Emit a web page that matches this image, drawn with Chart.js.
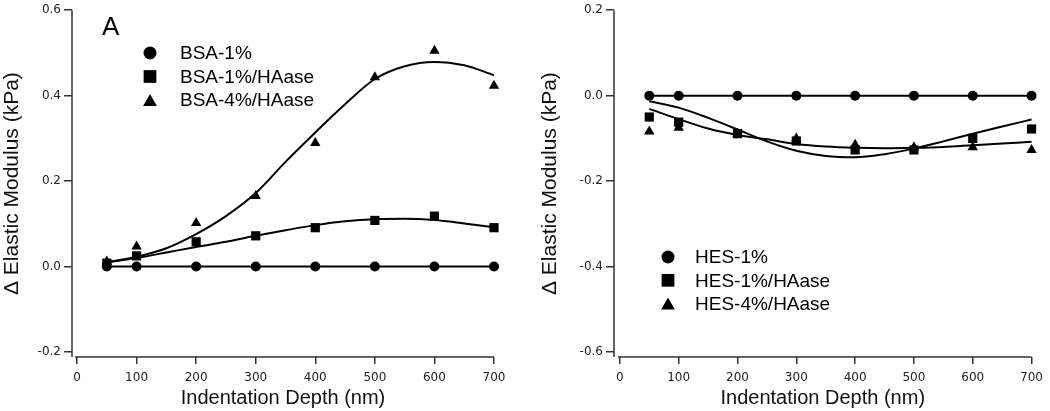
<!DOCTYPE html>
<html>
<head>
<meta charset="utf-8">
<script src="https://cdn.jsdelivr.net/npm/chart.js@4/dist/chart.umd.min.js"></script>
<style>
  html, body { margin: 0; padding: 0; background: #fff; }
  #wrap { position: relative; width: 1050px; height: 411px; }
  .panel { position: absolute; top: 0; width: 525px; height: 411px; }
  #pA { left: 0; }
  #pB { left: 525px; }
</style>
</head>
<body>
<div id="wrap">
  <div class="panel" id="pA"><canvas id="cA" width="525" height="411"></canvas></div>
  <div class="panel" id="pB"><canvas id="cB" width="525" height="411"></canvas></div>
</div>
<script>
// ---------- DATA ----------
const depth = [50, 100, 200, 300, 400, 500, 600, 700];
const fitDepth = [50, 100, 150, 200, 250, 300, 350, 400, 450, 500, 550, 600, 650, 700];

// Panel A
const bsa1 = [0, 0, 0, 0, 0, 0, 0, 0];
const bsa1HA = [0.008, 0.025, 0.058, 0.072, 0.091, 0.108, 0.118, 0.091];
const bsa4HA = [0.012, 0.047, 0.102, 0.165, 0.289, 0.443, 0.505, 0.423];
const bsa1HAfit = [0.010, 0.020, 0.033, 0.046, 0.058, 0.072, 0.085, 0.097, 0.106, 0.111, 0.112, 0.109, 0.101, 0.092];
const bsa4HAfit = [0.010, 0.023, 0.043, 0.076, 0.118, 0.172, 0.245, 0.314, 0.380, 0.439, 0.469, 0.479, 0.471, 0.448];

// Panel B
const hes1 = [0, 0, 0, 0, 0, 0, 0, 0];
const hes1HA = [-0.050, -0.062, -0.089, -0.106, -0.127, -0.127, -0.100, -0.078];
const hes4HA = [-0.084, -0.075, -0.090, -0.100, -0.115, -0.121, -0.121, -0.127];
const hes1HAfit = [-0.013, -0.028, -0.052, -0.079, -0.107, -0.129, -0.141, -0.144, -0.137, -0.124, -0.107, -0.089, -0.072, -0.056];
const hes4HAfit = [-0.031, -0.055, -0.077, -0.092, -0.102, -0.113, -0.119, -0.122, -0.123, -0.122, -0.120, -0.116, -0.112, -0.108];

// Tick labels
const xTicks = [0, 100, 200, 300, 400, 500, 600, 700];
const yTicksA = [-0.2, 0.0, 0.2, 0.4, 0.6];
const yTicksB = [-0.6, -0.4, -0.2, 0.0, 0.2];

const labelsA = ['BSA-1%', 'BSA-1%/HAase', 'BSA-4%/HAase'];
const labelsB = ['HES-1%', 'HES-1%/HAase', 'HES-4%/HAase'];
const xTitle = 'Indentation Depth (nm)';
const yTitle = '\u0394 Elastic Modulus (kPa)';

// ---------- helpers ----------
const pts = (xs, ys) => xs.map((x, i) => ({ x: x, y: ys[i] }));
const INK = '#000';
const AXIS = '#333';

function markerSet(label, xs, ys, style, radius, line) {
  return {
    label: label,
    data: pts(xs, ys),
    pointStyle: style,
    pointRadius: radius,
    pointBackgroundColor: INK,
    pointBorderColor: INK,
    pointBorderWidth: 0,
    showLine: !!line,
    borderColor: INK,
    borderWidth: 2,
    clip: false,
    isMarker: true
  };
}
function fitSet(xs, ys) {
  return {
    label: '',
    data: pts(xs, ys),
    showLine: true,
    pointRadius: 0,
    borderColor: INK,
    borderWidth: 2,
    cubicInterpolationMode: 'monotone',
    clip: false,
    isMarker: false
  };
}

const axisLinesPlugin = {
  id: 'axisLines',
  beforeDatasetsDraw(chart, args, opts) {
    const { ctx, chartArea } = chart;
    const xs = chart.scales.x, ys = chart.scales.y;
    ctx.save();
    ctx.strokeStyle = AXIS;
    ctx.lineWidth = 1.5;
    ctx.beginPath();
    ctx.moveTo(chartArea.left, ys.getPixelForValue(ys.max));
    ctx.lineTo(chartArea.left, chartArea.bottom);
    ctx.moveTo(xs.getPixelForValue(opts.xStart) - 2, chartArea.bottom);
    ctx.lineTo(xs.getPixelForValue(opts.xEnd), chartArea.bottom);
    ctx.stroke();
    ctx.restore();
  }
};

const legendPlugin = {
  id: 'insideLegend',
  afterDatasetsDraw(chart, args, opts) {
    const { ctx } = chart;
    ctx.save();
    // panel letter
    ctx.fillStyle = INK;
    ctx.font = '26px "Liberation Sans", Arial, sans-serif';
    ctx.textBaseline = 'alphabetic';
    ctx.textAlign = 'left';
    ctx.fillText(opts.letter, opts.letterX, opts.letterY);
    // legend entries
    const markers = chart.data.datasets.filter(d => d.isMarker);
    const sizes = { circle: 6.5, rect: 9, triangle: 8 };
    ctx.font = '19px "Liberation Sans", Arial, sans-serif';
    ctx.textBaseline = 'middle';
    markers.forEach((d, i) => {
      const y = opts.y + i * opts.gap;
      ctx.fillStyle = INK;
      ctx.strokeStyle = INK;
      Chart.helpers.drawPoint(ctx, {
        pointStyle: d.pointStyle, radius: sizes[d.pointStyle], rotation: 0, borderWidth: 0
      }, opts.markerX, y + (d.pointStyle === 'triangle' ? 2 : 0));
      ctx.fillStyle = INK;
      ctx.fillText(d.label, opts.textX, y + 1);
    });
    ctx.restore();
  }
};

function makeChart(canvasId, datasets, yTicks, yMin, yMax, xMin, padRight, yAxisWidth, yTitlePad, legendOpts) {
  return new Chart(document.getElementById(canvasId), {
    type: 'scatter',
    data: { datasets: datasets },
    plugins: [axisLinesPlugin, legendPlugin],
    options: {
      responsive: false,
      animation: false,
      events: [],
      layout: { padding: { top: 6, right: padRight, left: 0, bottom: 0 } },
      plugins: {
        legend: { display: false },
        tooltip: { enabled: false },
        axisLines: { xStart: 0, xEnd: 700 },
        insideLegend: legendOpts
      },
      scales: {
        x: {
          type: 'linear',
          min: xMin,
          max: 700,
          afterBuildTicks: s => { s.ticks = xTicks.map(v => ({ value: v })); },
          afterFit: s => { s.height = 54; },
          border: { display: false },
          grid: { drawOnChartArea: false, drawTicks: true, tickLength: 7, color: AXIS, lineWidth: 1.5 },
          ticks: {
            font: { family: '"DejaVu Sans", Verdana, sans-serif', size: 12 },
            color: '#222',
            padding: 7,
            maxRotation: 0,
            autoSkip: false,
            callback: v => String(v)
          },
          title: {
            display: true,
            text: xTitle,
            color: '#111',
            font: { family: '"Liberation Sans", Arial, sans-serif', size: 20 },
            padding: { top: 0, bottom: 1 }
          }
        },
        y: {
          type: 'linear',
          min: yMin,
          max: yMax,
          afterBuildTicks: s => { s.ticks = yTicks.map(v => ({ value: v })); },
          afterFit: s => { s.width = yAxisWidth; },
          border: { display: false },
          grid: { drawOnChartArea: false, drawTicks: true, tickLength: 8, color: AXIS, lineWidth: 1.5 },
          ticks: {
            font: { family: '"DejaVu Sans", Verdana, sans-serif', size: 12 },
            color: '#222',
            padding: 3,
            autoSkip: false,
            callback: v => Number(v).toFixed(1)
          },
          title: {
            display: true,
            text: yTitle,
            color: '#111',
            font: { family: '"Liberation Sans", Arial, sans-serif', size: 21 },
            padding: { top: yTitlePad, bottom: 0 }
          }
        }
      }
    }
  });
}

makeChart('cA', [
  fitSet(fitDepth, bsa1HAfit),
  fitSet(fitDepth, bsa4HAfit),
  markerSet(labelsA[0], depth, bsa1, 'circle', 5, true),
  markerSet(labelsA[1], depth, bsa1HA, 'rect', 6.5, false),
  markerSet(labelsA[2], depth, bsa4HA, 'triangle', 6, false)
], yTicksA, -0.2116, 0.6, -8.4, 31, 72, 0,
  { letter: 'A', letterX: 102, letterY: 35, markerX: 150, textX: 180, y: 53, gap: 23.5 });

makeChart('cB', [
  fitSet(fitDepth, hes1HAfit),
  fitSet(fitDepth, hes4HAfit),
  markerSet(labelsB[0], depth, hes1, 'circle', 5, true),
  markerSet(labelsB[1], depth, hes1HA, 'rect', 6.5, false),
  markerSet(labelsB[2], depth, hes4HA, 'triangle', 6, false)
], yTicksB, -0.6116, 0.2, -10, 14, 89, 13,
  { letter: 'B', letterX: 650, letterY: 35, markerX: 143, textX: 170, y: 257, gap: 23.3 });
</script>
</body>
</html>
